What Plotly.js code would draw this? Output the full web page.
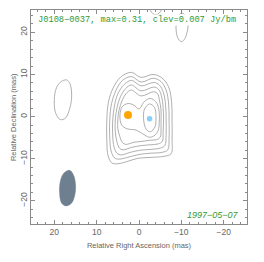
<!DOCTYPE html>
<html>
<head>
<meta charset="utf-8">
<script src="https://cdn.plot.ly/plotly-3.0.1.min.js"></script>
<style>html,body{margin:0;padding:0;background:#fff;}#chart{width:264px;height:262px;}</style>
</head>
<body>
<div id="chart"></div>
<script>
// ---- data (mas) ----
var titleText = "J0108\u22120037, max=0.31, clev=0.007 Jy/bm";
var dateText = "1997\u221205\u221207";
var xTitle = "Relative Right Ascension (mas)";
var yTitle = "Relative Declination (mas)";

// outer contours (outermost first)
var o5x = [1.8,-0.5,-3.3,-5.4,-7.0,-7.7,-7.8,-7.8,-7.6,-6.1,-2.6,0.2,2.6,5.0,6.4,7.3,7.6,7.6,7.2,6.1,4.3,1.8];
var o5y = [10.5,9.3,10.0,9.2,7.0,3.5,-0.8,-5.5,-8.8,-9.4,-9.7,-9.9,-10.6,-11.2,-11.0,-9.3,-5.5,-0.8,3.5,6.8,9.4,10.5];
var o4x = [1.8,-0.5,-3.4,-5.2,-6.4,-7.0,-7.1,-7.1,-6.8,-5.4,-2.6,0.0,2.4,4.7,5.8,6.6,6.9,6.9,6.5,5.5,3.9,1.8];
var o4y = [9.5,8.2,9.1,8.3,6.3,3.0,-0.8,-5.1,-7.9,-8.5,-8.7,-9.0,-9.6,-10.1,-9.8,-8.1,-5.1,-0.8,3.0,6.1,8.6,9.5];
var o3x = [1.8,-0.5,-3.5,-4.8,-5.8,-6.3,-6.4,-6.4,-6.1,-5.0,-2.6,-0.2,2.1,4.2,5.2,5.9,6.2,6.2,5.8,5.0,3.5,1.8];
var o3y = [8.6,7.3,8.1,7.5,5.6,2.5,-0.8,-4.3,-6.9,-7.5,-7.8,-8.0,-8.5,-9.1,-8.7,-7.2,-4.6,-0.8,2.5,5.4,7.6,8.6];
var o2x = [1.8,-0.5,-3.5,-4.6,-5.3,-5.7,-5.8,-5.7,-5.5,-4.5,-2.6,-0.5,1.7,3.8,4.6,5.2,5.6,5.6,5.2,4.4,3.2,1.8];
var o2y = [7.5,6.1,7.0,6.5,4.9,2.1,-0.8,-3.6,-5.9,-6.5,-6.7,-6.9,-7.3,-7.9,-7.5,-6.0,-3.6,-0.8,2.1,4.7,6.6,7.5];
var o1x = [1.8,-0.5,-3.5,-4.4,-4.8,-5.2,-5.2,-5.2,-5.0,-4.1,-2.6,-0.7,1.2,3.1,3.9,4.5,5.0,5.0,4.7,3.9,3.0,1.8];
var o1y = [6.3,4.9,5.9,5.4,4.0,1.6,-0.8,-3.2,-4.9,-5.5,-5.6,-5.9,-6.1,-6.6,-6.2,-4.8,-2.9,-0.8,1.6,4.0,5.5,6.3];
// contour enclosing both components
var px_ = [4.5,4.0,2.6,1.2,0.0,-1.2,-2.6,-4.0,-4.7,-4.8,-4.5,-3.5,-2.4,-0.9,0.7,2.8,4.1,4.5];
var py_ = [0.2,2.3,3.1,2.7,1.8,3.5,4.3,3.5,1.6,-0.8,-3.4,-4.6,-4.9,-4.1,-3.2,-2.9,-2.0,0.2];
// innermost contour around the western component
var bx = [-2.5,-3.7,-4.0,-3.8,-2.7,-1.7,-1.1,-1.3,-2.5];
var by = [3.0,2.1,-0.3,-2.4,-3.6,-3.0,-0.8,1.8,3.0];
// isolated contours
var lx = [17.1,16.3,15.9,16.3,17.4,18.6,19.7,20.0,19.5,18.4,17.1];
var ly = [8.7,7.8,5.1,2.1,-0.4,-0.7,0.9,4.0,6.8,8.3,8.7];
var trx = [-10.1,-11.2,-11.6,-11.3,-10.7,-10.0,-9.3,-8.8,-8.8,-9.2,-10.1];
var try_ = [24.6,23.6,21.7,19.8,18.3,17.8,18.4,20.1,22.2,23.7,24.6];
var tax = [-2.4,-2.7,-3.3,-4.0,-4.7,-5.3,-5.5];
var tay = [26.2,25.2,24.4,24.2,24.5,25.3,26.2];
// restoring beam outline
var beamX = [16.4,15.5,15.0,15.1,15.9,17.2,18.3,18.75,18.6,17.8,16.4];
var beamY = [-12.75,-13.8,-16.0,-18.3,-20.5,-21.2,-20.5,-18.1,-15.5,-13.5,-12.75];
// model components
var compX = [2.6, -2.5];
var compY = [0.4, -0.5];
var compColor = ["#FFA500", "#87CEFA"];
var compSize = [8, 5.5];

var contours = [[o5x,o5y],[o4x,o4y],[o3x,o3y],[o2x,o2y],[o1x,o1y],[px_,py_],[bx,by],[lx,ly],[trx,try_],[tax,tay]];

var traces = [];
contours.forEach(function(c){
  traces.push({x:c[0], y:c[1], type:'scatter', mode:'lines',
    line:{color:'#959595', width:0.75, shape:'spline', smoothing:1}, hoverinfo:'skip'});
});
traces.push({x:beamX, y:beamY, type:'scatter', mode:'lines', fill:'toself',
  fillcolor:'#6e7f90', line:{color:'#6e7f90', width:0.5, shape:'spline', smoothing:1}, hoverinfo:'skip'});
for (var i=0;i<compX.length;i++){
  traces.push({x:[compX[i]], y:[compY[i]], type:'scatter', mode:'markers',
    marker:{color:compColor[i], size:compSize[i], line:{width:0}}, hoverinfo:'skip'});
}

var axisCommon = {
  showgrid:false, zeroline:false, showline:true, linecolor:'#8a8a8a', linewidth:1,
  mirror:'allticks', ticks:'inside', ticklen:4, tickwidth:1, tickcolor:'#8a8a8a',
  dtick:10, tick0:0,
  minor:{dtick:2, ticklen:2, ticks:'inside', tickcolor:'#8a8a8a', showgrid:false},
  tickfont:{family:'Liberation Sans, Arial, sans-serif', size:8.5, color:'#666'}
};

var layout = {
  width:264, height:262,
  margin:{l:31, r:17, t:10, b:38, pad:0},
  paper_bgcolor:'#fff', plot_bgcolor:'#fff',
  showlegend:false, hovermode:false,
  xaxis: Object.assign({}, axisCommon, {
    range:[25.5,-25.5],
    title:{text:xTitle, standoff:6,
      font:{family:'Liberation Sans, Arial, sans-serif', size:7.5, color:'#666'}}
  }),
  yaxis: Object.assign({}, axisCommon, {
    range:[-25.5,25.3], tickangle:-90
  }),
  annotations:[
    {text:titleText, xref:'paper', yref:'paper', x:0.029, y:0.953, xanchor:'left', yanchor:'middle',
     showarrow:false, bgcolor:'#fff', borderpad:0,
     font:{family:'Liberation Mono, Courier New, monospace', size:8.7, color:'#339933'}},
    {text:'<i>'+dateText+'</i>', xref:'paper', yref:'paper', x:0.971, y:0.043, xanchor:'right', yanchor:'middle',
     showarrow:false,
     font:{family:'Liberation Sans, Arial, sans-serif', size:9, color:'#339933'}},
    {text:yTitle, xref:'paper', yref:'paper', x:-0.083, y:0.5, xanchor:'center', yanchor:'middle',
     textangle:-90, showarrow:false,
     font:{family:'Liberation Sans, Arial, sans-serif', size:7.5, color:'#666'}}
  ]
};

Plotly.newPlot('chart', traces, layout, {staticPlot:true, displayModeBar:false});
</script>
</body>
</html>
